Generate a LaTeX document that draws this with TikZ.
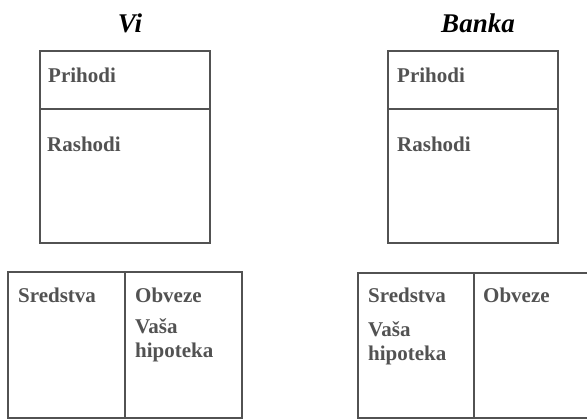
\documentclass[tikz,border=0pt]{standalone}
\usepackage{fontspec}
\setmainfont{Liberation Serif}
\begin{document}
\begin{tikzpicture}[x=1pt,y=-1pt,
  boxline/.style={draw=black!68, line width=2.2pt},
  lbl/.style={anchor=base west, inner sep=0pt, text=black!68, font=\bfseries\fontsize{21}{25}\selectfont},
  ttl/.style={anchor=base, inner sep=0pt, text=black, font=\bfseries\itshape\fontsize{27}{31}\selectfont}]
\useasboundingbox (0,0) rectangle (587,420);
\begin{scope}
\clip (0,0) rectangle (587,420);
% titles
\node[ttl] (tvi) at (130,33) {Vi};
\node[ttl] (tbanka) at (478,33) {Banka};
% top boxes
\draw[boxline] (40,51) rectangle (210,243);
\draw[boxline] (40,109) -- (210,109);
\draw[boxline] (388,51) rectangle (558,243);
\draw[boxline] (388,109) -- (558,109);
\node[lbl] (p1) at (48,83) {Prihodi};
\node[lbl] (r1) at (47,151) {Rashodi};
\node[lbl] (p2) at (397,83) {Prihodi};
\node[lbl] (r2) at (397,151) {Rashodi};
% bottom boxes
\draw[boxline] (8,272) rectangle (242,418);
\draw[boxline] (125,272) -- (125,418);
\draw[boxline] (358,273) rectangle (590,418);
\draw[boxline] (474,273) -- (474,418);
\node[lbl] (s1) at (18,302) {Sredstva};
\node[lbl] (o1) at (135,302) {Obveze};
\node[lbl] (v1) at (135,333) {Vaša};
\node[lbl] (h1) at (135,357) {hipoteka};
\node[lbl] (s2) at (368,302) {Sredstva};
\node[lbl] (v2) at (368,336) {Vaša};
\node[lbl] (h2) at (368,360) {hipoteka};
\node[lbl] (o2) at (483,302) {Obveze};
\end{scope}
\end{tikzpicture}
\end{document}
